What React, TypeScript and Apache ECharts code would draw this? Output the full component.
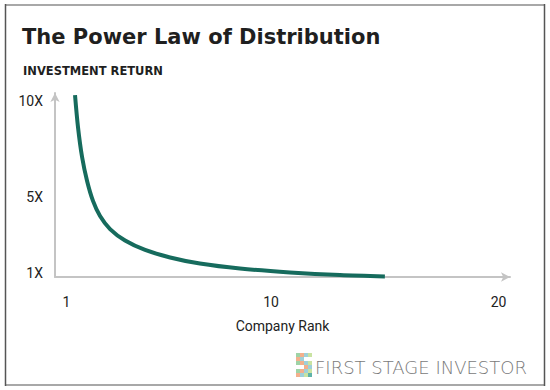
import React, { useEffect, useRef } from "react";
import * as echarts from "echarts";

const rank = [1.38, 1.51, 1.69, 1.91, 2.17, 2.48, 2.92, 3.58, 4.46, 5.56, 6.87, 8.63, 10.83, 13.03, 15.0];
const returns = [10.29, 8.63, 7.06, 5.81, 4.77, 3.98, 3.3, 2.7, 2.21, 1.82, 1.5, 1.24, 1.04, 0.9, 0.83];
const xTicks = [1, 10, 20];
const yTicks = [1, 5, 10];
const titleText = "The Power Law of Distribution";
const subtitleText = "INVESTMENT RETURN";
const xName = "Company Rank";
const brandText = "FIRST STAGE INVESTOR";
const logoPattern = [
  "1111",
  "1100",
  "1111",
  "0011",
  "1111",
  "1111",
];
const logoPalette = ["#9fd3a6", "#f4d98a", "#5fb3aa", "#f3b08c", "#a9dca9", "#f1e48f", "#9fd0d9", "#f0a79c", "#4f9f98", "#c9e3a2"];

const near = (v: number, arr: number[]) => arr.some((t) => Math.abs(v - t) < 1e-6);

export default function App() {
  const ref = useRef<HTMLDivElement>(null);
  useEffect(() => {
    if (!ref.current) return;
    const chart = echarts.init(ref.current, null, { renderer: "svg" });
    const logoRects: any[] = [];
    let k = 0;
    logoPattern.forEach((row, r) =>
      row.split("").forEach((c, col) => {
        if (c === "1") {
          logoRects.push({
            type: "rect",
            shape: { x: 296 + col * 4, y: 353 + r * 4, width: 4, height: 4 },
            style: { fill: logoPalette[(k * 3 + r) % logoPalette.length] },
          });
          k++;
        }
      })
    );
    const axisFont = { fontFamily: "Roboto", fontSize: 14, color: "#222" };
    chart.setOption({
      animation: false,
      backgroundColor: "#ffffff",
      title: [
        {
          text: titleText,
          left: 17,
          top: 21,
          textStyle: { fontFamily: "DejaVu Sans", fontWeight: "bold", fontSize: 21, color: "#1f1f1f" },
        },
        {
          text: subtitleText,
          left: 18,
          top: 60,
          textStyle: { fontFamily: "DejaVu Sans", fontWeight: "bold", fontSize: 11.5, color: "#1f1f1f" },
        },
      ],
      grid: { left: 55, right: 40, top: 93, bottom: 113, containLabel: false },
      xAxis: {
        type: "value",
        min: 0.5,
        max: 20.5,
        interval: 0.5,
        name: xName,
        nameLocation: "middle",
        nameGap: 42,
        nameTextStyle: axisFont,
        axisLine: {
          show: true,
          symbol: ["none", "arrow"],
          symbolSize: [7, 9],
          lineStyle: { color: "#c4c4c4", width: 2 },
        },
        axisTick: { show: false },
        splitLine: { show: false },
        axisLabel: {
          margin: 18,
          ...axisFont,
          showMinLabel: true,
          showMaxLabel: true,
          formatter: (v: number) => (near(v, xTicks) ? String(Math.round(v)) : ""),
        },
      },
      yAxis: {
        type: "value",
        min: 0.8,
        max: 10.4,
        interval: 0.2,
        axisLine: {
          show: true,
          symbol: ["none", "arrow"],
          symbolSize: [7, 9],
          lineStyle: { color: "#c4c4c4", width: 2 },
        },
        axisTick: { show: false },
        splitLine: { show: false },
        axisLabel: {
          margin: 12,
          ...axisFont,
          formatter: (v: number) => (near(v, yTicks) ? Math.round(v) + "X" : ""),
        },
      },
      series: [
        {
          type: "line",
          data: rank.map((x, i) => [x, returns[i]]),
          smooth: 0.3,
          showSymbol: false,
          lineStyle: { color: "#166b5d", width: 4, cap: "butt" },
          z: 3,
        },
      ],
      graphic: [
        { type: "line", shape: { x1: 5, y1: 5, x2: 545, y2: 5 }, style: { stroke: "#a8a8a8", lineWidth: 2 } },
        { type: "line", shape: { x1: 5, y1: 385, x2: 545, y2: 385 }, style: { stroke: "#a8a8a8", lineWidth: 2 } },
        { type: "line", shape: { x1: 5.5, y1: 4, x2: 5.5, y2: 386 }, style: { stroke: "#555", lineWidth: 1.5 } },
        { type: "line", shape: { x1: 544.5, y1: 4, x2: 544.5, y2: 386 }, style: { stroke: "#555", lineWidth: 1.5 } },
        { type: "group", children: logoRects },
        {
          type: "text",
          x: 315,
          y: 367,
          style: {
            text: brandText,
            fontFamily: "DejaVu Sans",
            fontWeight: 200,
            fontSize: 18,
            fill: "#7a7a7a",
            verticalAlign: "middle",
          },
        },
      ],
    });
    return () => chart.dispose();
  }, []);
  return (
    <div
      ref={ref}
      style={{ position: "fixed", left: 0, top: 0, width: 550, height: 390 }}
    />
  );
}
